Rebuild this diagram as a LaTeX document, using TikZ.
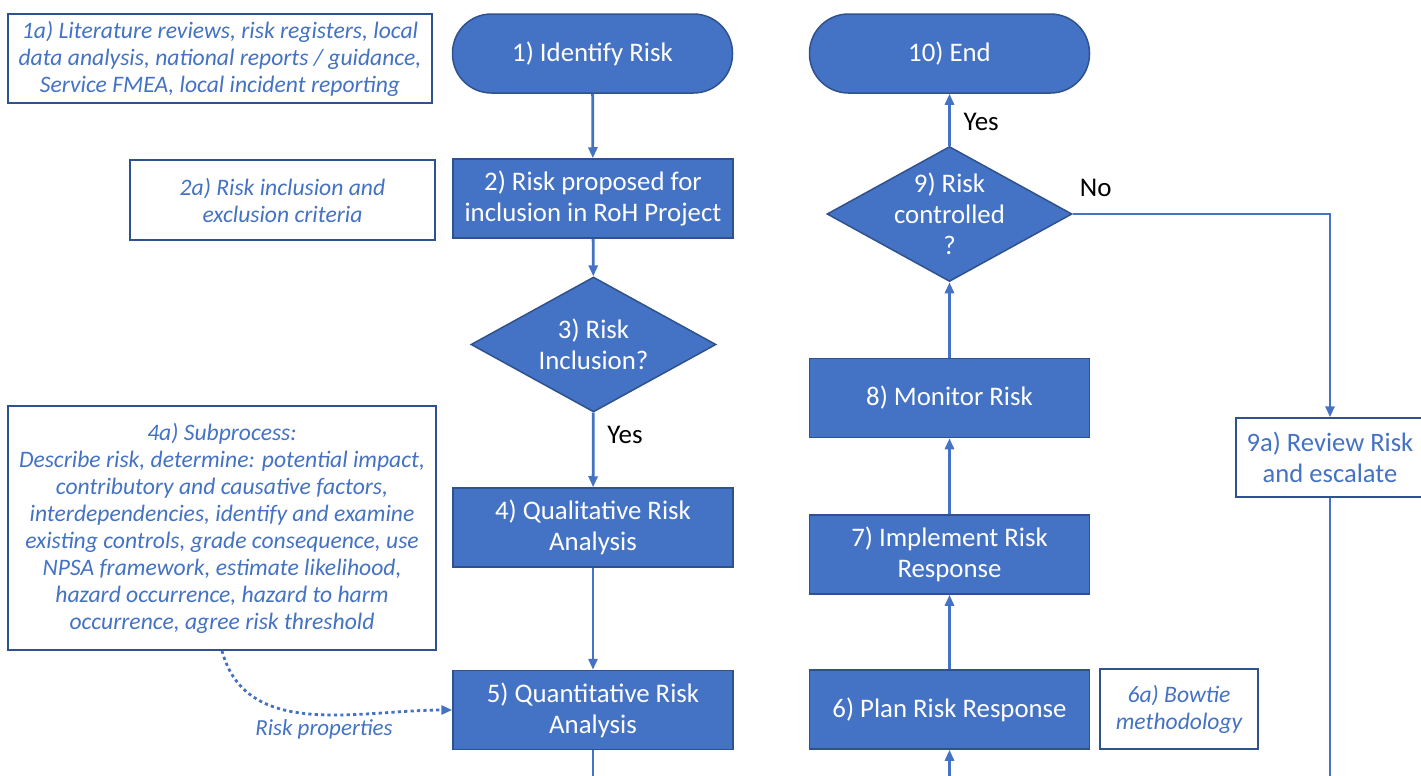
\documentclass[tikz,border=0pt]{standalone}
\usepackage{fontspec}
\setmainfont{Carlito}
\usetikzlibrary{arrows.meta,shapes.geometric}
\tikzset{>={Triangle[width=4.5pt,length=5.5pt]}}
\definecolor{boxblue}{HTML}{4472C4}
\definecolor{edgeblue}{HTML}{2F528F}
\tikzset{
  process/.style={draw=edgeblue, fill=boxblue, line width=0.75pt, text=white,
    minimum width=140pt, minimum height=39.5pt, inner sep=1pt, align=center,
    font=\fontsize{13.4}{15.5}\selectfont},
  terminal/.style={process, rounded corners=19.5pt},
  decision/.style={process, diamond, minimum width=122.5pt, minimum height=67.5pt, inner sep=-14pt},
  note/.style={draw=edgeblue, fill=white, line width=0.75pt, text=boxblue,
    inner sep=1pt, align=center, font=\fontsize{11.8}{13.5}\selectfont\itshape},
  flow/.style={draw=boxblue, line width=1.4pt},
  answer/.style={font=\fontsize{13.5}{15}\selectfont}
}

\begin{document}
\begin{tikzpicture}[x=0.5pt,y=-0.5pt]

  \useasboundingbox (0,0) rectangle (1421,776);
  \clip (0,0) rectangle (1421,776);

  % left column
  \node[terminal] (identify) at (592.5,53.5) {1) Identify Risk};
  \node[process] (proposed) at (593,198.5) {2) Risk proposed for\\inclusion in RoH Project};
  \node[decision] (inclusion) at (593.5,344.5) {3) Risk\\Inclusion?};
  \node[process] (quali) at (593,527.5) {4) Qualitative Risk\\Analysis};
  \node[process] (quanti) at (593,710) {5) Quantitative Risk\\Analysis};

  % right column
  \node[terminal] (finish) at (949.5,53.5) {10) End};
  \node[decision] (controlled) at (949.5,214) {9) Risk\\controlled\\?};
  \node[process] (monitor) at (949.5,398) {8) Monitor Risk};
  \node[process] (implement) at (949.5,554.5) {7) Implement Risk\\Response};
  \node[process] (plan) at (949.5,709.5) {6) Plan Risk Response};

  % notes
  \node[note, minimum width=212pt, minimum height=44.5pt] (sources) at (220,58.5)
    {1a) Literature reviews, risk registers, local\\data analysis, national reports / guidance,\\Service FMEA, local incident reporting};
  \node[note, minimum width=152.5pt, minimum height=40pt] (criteria) at (282.5,200)
    {2a) Risk inclusion and\\exclusion criteria};
  \node[note, minimum width=214pt, minimum height=122pt] (subprocess) at (222,528)
    {4a) Subprocess:\\Describe risk, determine: potential impact,\\contributory and causative factors,\\interdependencies, identify and examine\\existing controls, grade consequence, use\\NPSA framework, estimate likelihood,\\hazard occurrence, hazard to harm\\occurrence, agree risk threshold};
  \node[note, minimum width=79pt, minimum height=40pt] (bowtie) at (1179,709)
    {6a) Bowtie\\methodology};
  \node[note, font=\fontsize{13.3}{15.5}\selectfont, minimum width=94pt, minimum height=39.5pt] (review) at (1330,457.5)
    {9a) Review Risk\\and escalate};

  \coordinate (bottom) at (0,780);

  % connectors
  \draw[flow,->] (identify) -- (proposed);
  \draw[flow,->] (proposed) -- (inclusion);
  \draw[flow,->] (inclusion) -- node[answer, right=3pt, pos=0.3] (yesone) {Yes} (quali);
  \draw[flow,->] (quali) -- (quanti);
  \draw[flow] (quanti) -- (quanti.south |- bottom);

  \draw[flow,->] (plan.south |- bottom) -- (plan);
  \draw[flow,->] (plan) -- (implement);
  \draw[flow,->] (implement) -- (monitor);
  \draw[flow,->] (monitor) -- (controlled);
  \draw[flow,->] (controlled) -- node[answer, right=3pt, pos=0.45] (yestwo) {Yes} (finish);
  \draw[flow,->] (controlled.east) -| (review.north);
  \node[answer, anchor=south west, yshift=5pt] (notext) at (controlled.east) {No};
  \draw[flow] (review) -- (review.south |- bottom);

  \draw[flow,->, dash pattern=on 1.6pt off 1.6pt] (subprocess.south) to[out=-75,in=180] (quanti.west);
  \node[text=boxblue, font=\fontsize{11.5}{13}\selectfont\itshape] (props) at (324,729) {Risk properties};

\end{tikzpicture}
\end{document}
